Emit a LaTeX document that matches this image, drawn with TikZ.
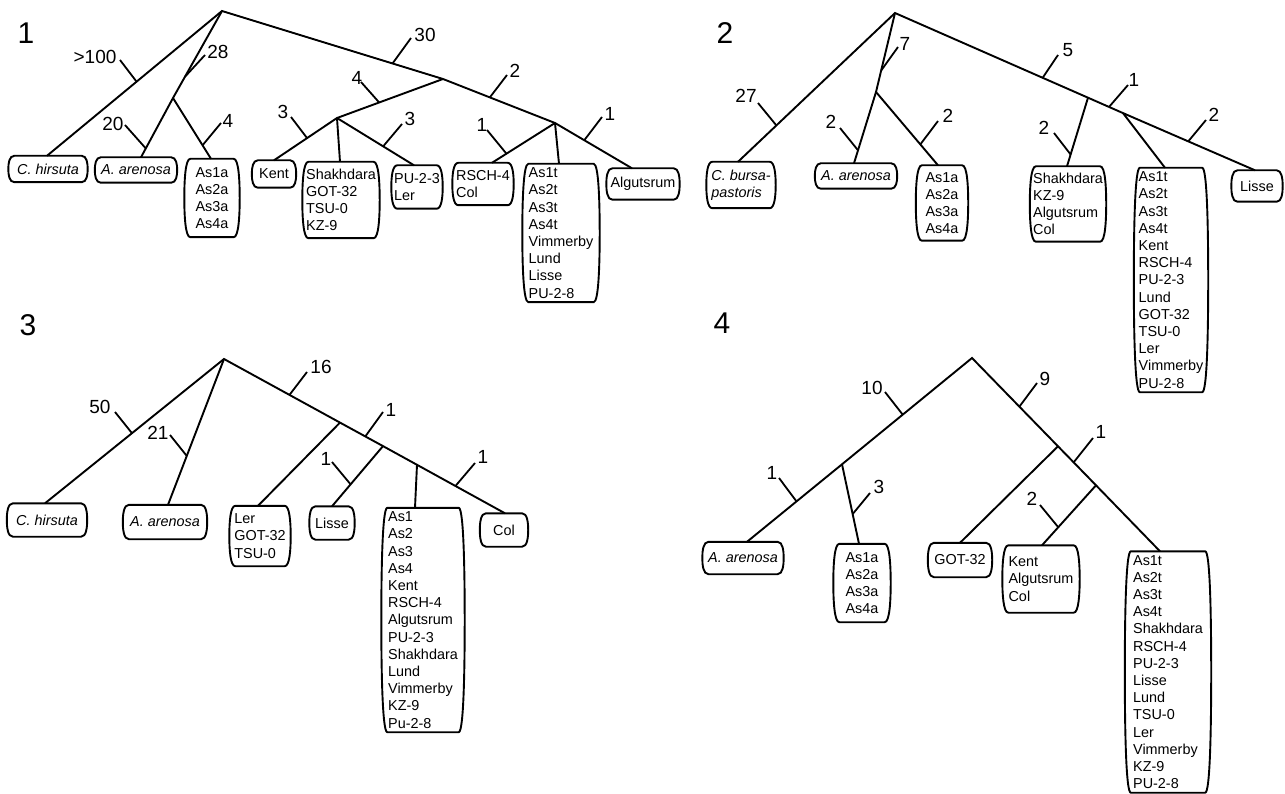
\documentclass[tikz,border=0pt]{standalone}
\usepackage{fontspec}
\setmainfont{Liberation Sans}
\usetikzlibrary{calc}
\newcommand\boxfont{\fontsize{14.4}{17.2}\selectfont}
\newcommand\lblfont{\fontsize{19}{19}\selectfont}
\newcommand\panelfont{\fontsize{30}{30}\selectfont}
\tikzset{
  tree/.style={line width=1.9pt, line join=miter},
  tickline/.style={line width=1.8pt},
  boxline/.style={line width=1.9pt},
  leafnode/.style={align=left, inner sep=0pt, font=\boxfont},
  lbl/.style={font=\lblfont, inner sep=0pt},
  panel/.style={font=\panelfont, inner sep=0pt}
}
\newcommand\drawbarrel[1]{%
  \draw[boxline] let \p1=(#1.north west), \p2=(#1.south east),
     \p3=($(#1.north west)!0.5!(#1.south west)$),
     \p4=($(#1.north west)!0.28!(#1.south west)$),
     \p5=($(#1.north west)!0.72!(#1.south west)$) in
    (\x1+6pt,\y1) -- (\x2-6pt,\y1)
    .. controls (\x2-1pt,\y1) and (\x2,\y4) .. (\x2,\y3)
    .. controls (\x2,\y5) and (\x2-1pt,\y2) .. (\x2-6pt,\y2)
    -- (\x1+6pt,\y2)
    .. controls (\x1+1pt,\y2) and (\x1,\y5) .. (\x1,\y3)
    .. controls (\x1,\y4) and (\x1+1pt,\y1) .. (\x1+6pt,\y1) -- cycle;}
\newcommand\leaf[6]{%
  \node[leafnode, minimum width=#3pt, minimum height=#4pt] (#1) at (#2) {#6};
  \drawbarrel{#1}
  \coordinate (#1-t) at ([xshift=#5pt]#1.north);}
\newcommand\tk[7]{%
  \coordinate (#1-e) at (#5);
  \draw[tickline] ($(#2)!(#4)!(#3)$) -- (#1-e);
  \node[lbl] (#1) at (#6) {#7};}
\begin{document}
\begin{tikzpicture}[x=1pt,y=-1pt]
\fill[white] (0,0) rectangle (1285,794);
\useasboundingbox (0,0) rectangle (1285,794);

% ================= Panel 1 =================
\node[panel] (p1) at (26,33) {1};
\coordinate (r1) at (222,11);
\coordinate (n1a) at (173,98);
\coordinate (X1) at (443,79);
\coordinate (Y1) at (337,118);
\coordinate (Z1) at (555,123);
\leaf{ch1}{48,169}{79}{26}{-1}{\itshape C. hirsuta}
\leaf{aa1}{136,170}{82}{25}{5}{\itshape A. arenosa}
\leaf{as1}{212,198}{55}{78}{-1}{As1a\\As2a\\As3a\\As4a}
\leaf{kent1}{274,174}{44}{27}{0}{Kent}
\leaf{sh1}{341,200}{77}{76}{-1}{Shakhdara\\GOT-32\\TSU-0\\KZ-9}
\leaf{pu1}{417,187}{51}{43}{-3}{PU-2-3\\Ler}
\leaf{rs1}{483,184}{61}{42}{9}{RSCH-4\\Col}
\leaf{at1}{561,233}{77}{138}{-2}{As1t\\As2t\\As3t\\As4t\\Vimmerby\\Lund\\Lisse\\PU-2-8}
\leaf{al1}{643,184}{73}{31}{-11}{Algutsrum}
\draw[tree] (ch1-t) -- (r1) -- (X1) -- (Z1) -- (al1-t);
\draw[tree] (r1) -- (n1a) -- (aa1-t);
\draw[tree] (n1a) -- (as1-t);
\draw[tree] (X1) -- (Y1) -- (kent1-t);
\draw[tree] (Y1) -- (sh1-t);
\draw[tree] (Y1) -- (pu1-t);
\draw[tree] (Z1) -- (rs1-t);
\draw[tree] (Z1) -- (at1-t);
\tk{t1a}{r1}{ch1-t}{136,81}{120,60}{95,57}{>100}
\tk{t1b}{r1}{n1a}{187,78}{205,55}{218,52}{28}
\tk{t1c}{n1a}{aa1-t}{145,148}{125,125}{113,124}{20}
\tk{t1d}{n1a}{as1-t}{203,145}{221,123}{228,121}{4}
\tk{t1e}{r1}{X1}{393,62}{411,38}{425,35}{30}
\tk{t1f}{X1}{Y1}{379,102}{361,82}{357,78}{4}
\tk{t1g}{Y1}{kent1-t}{307,138}{291,117}{283,112}{3}
\tk{t1h}{Y1}{pu1-t}{384,145}{402,124}{410,119}{3}
\tk{t1i}{X1}{Z1}{490,97}{507,75}{515,71}{2}
\tk{t1j}{Z1}{rs1-t}{506,153}{487,130}{482,125}{1}
\tk{t1k}{Z1}{al1-t}{585,139}{602,117}{610,114}{1}

% ================= Panel 2 =================
\node[panel] (p2) at (725,33) {2};
\coordinate (r2) at (895,13);
\coordinate (A2) at (876,92);
\coordinate (B2) at (1088,97.7);
\coordinate (C2) at (1123,113.1);
\leaf{cb2}{741,185}{69}{46}{-3}{\itshape C. bursa-\\\itshape pastoris}
\leaf{aa2}{856,176}{82}{25}{-2}{\itshape A. arenosa}
\leaf{as2}{942,203}{52}{75}{-4}{As1a\\As2a\\As3a\\As4a}
\leaf{sh2}{1068,204}{76}{75}{-1}{Shakhdara\\KZ-9\\Algutsrum\\Col}
\leaf{at2}{1171,280}{74}{224}{-6}{As1t\\As2t\\As3t\\As4t\\Kent\\RSCH-4\\PU-2-3\\Lund\\GOT-32\\TSU-0\\Ler\\Vimmerby\\PU-2-8}
\leaf{li2}{1257,186}{51}{31}{-2}{Lisse}
\draw[tree] (cb2-t) -- (r2) -- (B2) -- (C2) -- (li2-t);
\draw[tree] (r2) -- (A2) -- (aa2-t);
\draw[tree] (A2) -- (as2-t);
\draw[tree] (B2) -- (sh2-t);
\draw[tree] (C2) -- (at2-t);
\tk{t2a}{r2}{cb2-t}{775,124}{758,103}{746,96}{27}
\tk{t2b}{r2}{A2}{879,70}{898,47}{905,44}{7}
\tk{t2c}{A2}{aa2-t}{857,150}{840,128}{831,122}{2}
\tk{t2d}{A2}{as2-t}{922,143}{938,121}{948,116}{2}
\tk{t2e}{r2}{B2}{1043,77}{1058,55}{1068,50}{5}
\tk{t2f}{B2}{C2}{1109,107}{1128,85}{1134,80}{1}
\tk{t2g}{C2}{li2-t}{1188,142}{1206,120}{1214,115}{2}
\tk{t2h}{B2}{sh2-t}{1069,154}{1054,133}{1044,128}{2}

% ================= Panel 3 =================
\node[panel] (p3) at (28,325) {3};
\coordinate (r3) at (224,359);
\coordinate (L3) at (340,422.6);
\coordinate (S3) at (383,446.1);
\coordinate (A3) at (417,464.8);
\leaf{ch3}{47,520}{80}{33}{-2}{\itshape C. hirsuta}
\leaf{aa3}{165,522}{84}{34}{3}{\itshape A. arenosa}
\leaf{le3}{260,536}{61}{60}{-2}{Ler\\GOT-32\\TSU-0}
\leaf{li3}{332,523}{45}{33}{0}{Lisse}
\leaf{as3}{423,620}{83}{224}{-8}{As1\\As2\\As3\\As4\\Kent\\RSCH-4\\Algutsrum\\PU-2-3\\Shakhdara\\Lund\\Vimmerby\\KZ-9\\Pu-2-8}
\leaf{co3}{504,530}{48}{33}{1}{Col}
\draw[tree] (ch3-t) -- (r3) -- (L3) -- (S3) -- (A3) -- (co3-t);
\draw[tree] (r3) -- (aa3-t);
\draw[tree] (L3) -- (le3-t);
\draw[tree] (S3) -- (li3-t);
\draw[tree] (A3) -- (as3-t);
\tk{t3a}{r3}{ch3-t}{131,432}{115,412}{100,407}{50}
\tk{t3b}{r3}{aa3-t}{187,456}{170,435}{158,433}{21}
\tk{t3c}{r3}{L3}{290,394}{307,372}{321,367}{16}
\tk{t3d}{L3}{S3}{365,437}{383,412}{391,410}{1}
\tk{t3e}{S3}{li3-t}{349,483}{332,462}{326,459}{1}
\tk{t3f}{A3}{co3-t}{456,485}{475,463}{483,457}{1}

% ================= Panel 4 =================
\node[panel] (p4) at (722,323) {4};
\coordinate (r4) at (972,358);
\coordinate (N4) at (842,464.3);
\coordinate (G4) at (1058,446.3);
\coordinate (K4) at (1096,485.3);
\leaf{aa4}{743,558}{81}{32}{4}{\itshape A. arenosa}
\leaf{as4}{862,583}{57}{78}{-3}{As1a\\As2a\\As3a\\As4a}
\leaf{go4}{960,560}{64}{34}{0}{GOT-32}
\leaf{ke4}{1041,579}{77}{67}{1}{Kent\\Algutsrum\\Col}
\leaf{at4}{1168,672}{86}{241}{-8}{As1t\\As2t\\As3t\\As4t\\Shakhdara\\RSCH-4\\PU-2-3\\Lisse\\Lund\\TSU-0\\Ler\\Vimmerby\\KZ-9\\PU-2-8}
\draw[tree] (aa4-t) -- (N4) -- (r4) -- (G4) -- (K4) -- (at4-t);
\draw[tree] (N4) -- (as4-t);
\draw[tree] (G4) -- (go4-t);
\draw[tree] (K4) -- (ke4-t);
\tk{t4a}{r4}{N4}{903,415}{885,392}{872,388}{10}
\tk{t4b}{N4}{aa4-t}{797,502}{779,478}{772,473}{1}
\tk{t4c}{N4}{as4-t}{853,514}{870,493}{879,487}{3}
\tk{t4d}{r4}{G4}{1019,407}{1037,383}{1045,379}{9}
\tk{t4e}{G4}{K4}{1074,462}{1093,438}{1101,432}{1}
\tk{t4f}{K4}{ke4-t}{1058,527}{1040,505}{1032,499}{2}
\end{tikzpicture}
\end{document}
